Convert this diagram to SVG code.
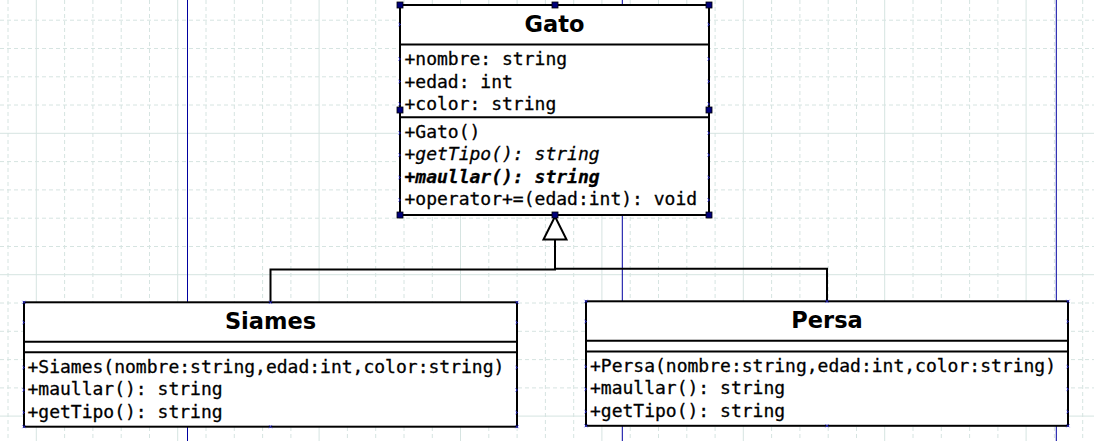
<svg xmlns="http://www.w3.org/2000/svg" width="1094" height="441" viewBox="0 0 1094 441">
<style>
.gd{fill:none;stroke:#d6e4e1;stroke-width:1;stroke-dasharray:4 3}
.gs{fill:none;stroke:#d6e4e1;stroke-width:1}
.pb{fill:none;stroke:#0000a0;stroke-width:1}
.box{fill:#fff;stroke:#000;stroke-width:2}
.sep{stroke:#000;stroke-width:2}
.title{font-family:"DejaVu Sans","Liberation Sans",sans-serif;font-weight:bold;font-size:22.5px;text-anchor:middle;fill:#000}
.mem{font-family:"DejaVu Sans Mono","Liberation Mono",monospace;font-size:18px;fill:#000;stroke:#000;stroke-width:0.3}
.it{font-style:italic}
.bi{font-style:italic;font-weight:bold}
.cp{fill:none;stroke:#2a2ae6;stroke-width:0.8}
.h{fill:#00007a;stroke:#000;stroke-width:0.8}
.ln{fill:none;stroke:#000;stroke-width:2}
.tri{fill:#fff;stroke:#000;stroke-width:2;stroke-linejoin:miter}
</style>
<rect x="0" y="0" width="1094" height="441" fill="#fff"/>
<g id="grid">
<path class="gd" d="M8 0V441M64.6 0V441M92.9 0V441M121.2 0V441M149.5 0V441M206 0V441M234.3 0V441M262.6 0V441M290.9 0V441M347.4 0V441M375.7 0V441M404 0V441M432.3 0V441M488.8 0V441M517.1 0V441M545.4 0V441M573.7 0V441M630.2 0V441M658.5 0V441M686.8 0V441M715.1 0V441M771.6 0V441M799.9 0V441M828.2 0V441M856.5 0V441M913 0V441M941.3 0V441M969.6 0V441M997.9 0V441M1054.4 0V441M1082.7 0V441"/>
<path class="gd" d="M0 20.2H1094M0 48.5H1094M0 76.8H1094M0 105H1094M0 161.6H1094M0 189.9H1094M0 218.2H1094M0 246.5H1094M0 303H1094M0 331.3H1094M0 359.6H1094M0 387.9H1094"/>
<path class="gs" d="M36.3 0V441M177.7 0V441M319.1 0V441M460.5 0V441M601.9 0V441M743.3 0V441M884.7 0V441M1026.1 0V441M0 133.3H1094M0 274.7H1094M0 416.1H1094"/>
</g>
<g id="pagebreaks">
<path class="pb" d="M187.5 0V441M622.3 0V441M1056.3 0V441"/>
</g>
<g id="connectors">
<path class="ln" d="M270.5 302.3V269.5H556"/>
<path class="ln" d="M827 301.3V268.7H554"/>
<path class="ln" d="M555 269.5V239.5"/>
<polygon class="tri" points="555,216.5 543.5,239.5 566.5,239.5"/>
</g>
<g id="Gato">
<rect class="box" x="400" y="5" width="309" height="210"/>
<line class="sep" x1="400" y1="44.5" x2="709" y2="44.5"/>
<line class="sep" x1="400" y1="117.3" x2="709" y2="117.3"/>
<text class="title" x="554.5" y="31.5">Gato</text>
<text class="mem" x="404.5" y="65">+nombre: string</text>
<text class="mem" x="404.5" y="87.5">+edad: int</text>
<text class="mem" x="404.5" y="110">+color: string</text>
<text class="mem" x="404.5" y="137.5">+Gato()</text>
<text class="mem it" x="404.5" y="160">+getTipo(): string</text>
<text class="mem bi" x="404.5" y="182.5">+maullar(): string</text>
<text class="mem" x="404.5" y="205">+operator+=(edad:int): void</text>
<path class="cp" d="M398.5 23l2 1.5-2 1.5M707.5 23l2 1.5-2 1.5M398.5 57.5l2 1.5-2 1.5M707.5 57.5l2 1.5-2 1.5M398.5 80l2 1.5-2 1.5M707.5 80l2 1.5-2 1.5M398.5 102.5l2 1.5-2 1.5M707.5 102.5l2 1.5-2 1.5M398.5 131.5l2 1.5-2 1.5M707.5 131.5l2 1.5-2 1.5M398.5 153.5l2 1.5-2 1.5M707.5 153.5l2 1.5-2 1.5M398.5 176l2 1.5-2 1.5M707.5 176l2 1.5-2 1.5M398.5 198.5l2 1.5-2 1.5M707.5 198.5l2 1.5-2 1.5"/>
<rect class="h" x="397" y="2" width="6" height="6"/>
<rect class="h" x="552" y="2" width="6" height="6"/>
<rect class="h" x="706" y="2" width="6" height="6"/>
<rect class="h" x="397" y="107" width="6" height="6"/>
<rect class="h" x="706" y="107" width="6" height="6"/>
<rect class="h" x="397" y="212" width="6" height="6"/>
<rect class="h" x="552" y="212" width="6" height="6"/>
<rect class="h" x="706" y="212" width="6" height="6"/>
</g>
<g id="Siames">
<rect class="box" x="24" y="302.3" width="493" height="124.4"/>
<line class="sep" x1="24" y1="341.7" x2="517" y2="341.7"/>
<line class="sep" x1="24" y1="352.3" x2="517" y2="352.3"/>
<text class="title" x="270.5" y="329">Siames</text>
<text class="mem" x="27.5" y="372.5">+Siames(nombre:string,edad:int,color:string)</text>
<text class="mem" x="27.5" y="395">+maullar(): string</text>
<text class="mem" x="27.5" y="417.5">+getTipo(): string</text>
<path class="cp" d="M22.5 300.8l3 3M22.5 303.8l3-3M515.5 300.8l3 3M515.5 303.8l3-3M269 300.8l3 3M269 303.8l3-3M22.5 425.2l3 3M22.5 428.2l3-3M515.5 425.2l3 3M515.5 428.2l3-3M269 425.2l3 3M269 428.2l3-3M22.5 321l2 1.5-2 1.5M515.5 321l2 1.5-2 1.5M22.5 366l2 1.5-2 1.5M515.5 366l2 1.5-2 1.5M22.5 388.5l2 1.5-2 1.5M515.5 388.5l2 1.5-2 1.5M22.5 411l2 1.5-2 1.5M515.5 411l2 1.5-2 1.5"/>
</g>
<g id="Persa">
<rect class="box" x="586" y="301.3" width="482" height="124.5"/>
<line class="sep" x1="586" y1="340.8" x2="1068" y2="340.8"/>
<line class="sep" x1="586" y1="351.6" x2="1068" y2="351.6"/>
<text class="title" x="827" y="328">Persa</text>
<text class="mem" x="590" y="371.7">+Persa(nombre:string,edad:int,color:string)</text>
<text class="mem" x="590" y="394.2">+maullar(): string</text>
<text class="mem" x="590" y="416.7">+getTipo(): string</text>
<path class="cp" d="M584.5 299.8l3 3M584.5 302.8l3-3M1066.5 299.8l3 3M1066.5 302.8l3-3M825.5 299.8l3 3M825.5 302.8l3-3M584.5 424.3l3 3M584.5 427.3l3-3M1066.5 424.3l3 3M1066.5 427.3l3-3M825.5 424.3l3 3M825.5 427.3l3-3M584.5 320l2 1.5-2 1.5M1066.5 320l2 1.5-2 1.5M584.5 365.2l2 1.5-2 1.5M1066.5 365.2l2 1.5-2 1.5M584.5 387.7l2 1.5-2 1.5M1066.5 387.7l2 1.5-2 1.5M584.5 410.2l2 1.5-2 1.5M1066.5 410.2l2 1.5-2 1.5"/>
</g>
</svg>
